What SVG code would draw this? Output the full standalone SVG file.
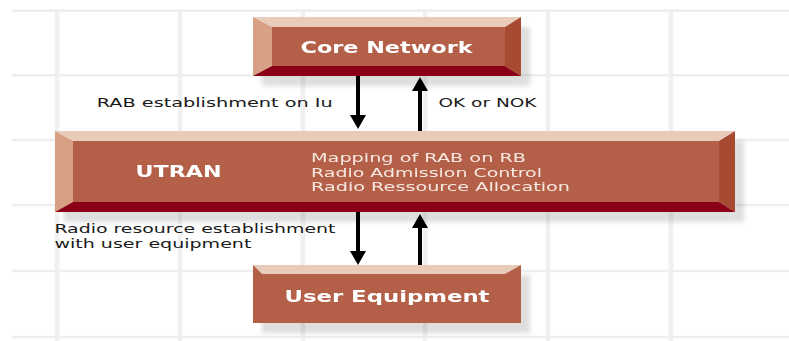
<svg xmlns="http://www.w3.org/2000/svg" width="789" height="341" viewBox="0 0 789 341">
  <defs>
    <style>
      .grid-h { stroke: #eeeeee; stroke-width: 2.5; }
      .grid-v { stroke: #f0f0f0; stroke-width: 4.5; }
      .face { fill: #b4614a; }
      .bev-top { fill: #e8ccb9; }
      .bev-left { fill: #d8a084; }
      .bev-right { fill: #a64b33; }
      .bev-bottom { fill: #8a0014; }
      .node-title { font-family: "DejaVu Sans", "Liberation Sans", sans-serif; font-weight: bold; font-size: 16.5px; fill: #ffffff; }
      .node-list { font-family: "DejaVu Sans", "Liberation Sans", sans-serif; font-size: 12.8px; fill: #f6e8e0; }
      .label { font-family: "DejaVu Sans", "Liberation Sans", sans-serif; font-size: 13px; fill: #1a1a1a; }
      .flow { stroke: #000000; stroke-width: 4; fill: none; marker-end: url(#head); }
    </style>
    <marker id="head" viewBox="0 0 14 16" refX="0" refY="8" markerWidth="14" markerHeight="16" markerUnits="userSpaceOnUse" orient="auto">
      <path d="M0,0 L14,8 L0,16 Z" fill="#000000"/>
    </marker>
    <filter id="shadow" x="-10%" y="-20%" width="130%" height="160%">
      <feGaussianBlur in="SourceAlpha" stdDeviation="2.2" result="blur"/>
      <feOffset in="blur" dx="9" dy="10" result="off"/>
      <feFlood flood-color="#000000" flood-opacity="0.13"/>
      <feComposite in2="off" operator="in" result="shade"/>
      <feMerge>
        <feMergeNode in="shade"/>
        <feMergeNode in="SourceGraphic"/>
      </feMerge>
    </filter>
  </defs>

  <rect width="789" height="341" fill="#ffffff"/>

  <!-- background grid -->
  <g id="grid">
    <line class="grid-v" x1="57" y1="12" x2="57" y2="341"/>
    <line class="grid-v" x1="180" y1="12" x2="180" y2="341"/>
    <line class="grid-v" x1="303" y1="12" x2="303" y2="341"/>
    <line class="grid-v" x1="425" y1="12" x2="425" y2="341"/>
    <line class="grid-v" x1="548" y1="12" x2="548" y2="341"/>
    <line class="grid-v" x1="671" y1="12" x2="671" y2="341"/>
    <line class="grid-h" x1="12" y1="10.7" x2="789" y2="10.7"/>
    <line class="grid-h" x1="12" y1="75.3" x2="789" y2="75.3"/>
    <line class="grid-h" x1="12" y1="140" x2="789" y2="140"/>
    <line class="grid-h" x1="12" y1="205" x2="789" y2="205"/>
    <line class="grid-h" x1="12" y1="271" x2="789" y2="271"/>
    <line class="grid-h" x1="12" y1="337" x2="789" y2="337"/>
  </g>

  <!-- Core Network -->
  <g id="node-core" filter="url(#shadow)">
    <rect class="face" x="272" y="27" width="233" height="39"/>
    <polygon class="bev-top" points="253,17 521,17 505,27 272,27"/>
    <polygon class="bev-left" points="253,17 272,27 272,66 253,76"/>
    <polygon class="bev-right" points="521,17 521,76 505,66 505,27"/>
    <polygon class="bev-bottom" points="253,76 272,66 505,66 521,76"/>
    <text class="node-title" x="300.5" y="53.3" textLength="172" lengthAdjust="spacingAndGlyphs">Core Network</text>
  </g>

  <!-- UTRAN -->
  <g id="node-utran" filter="url(#shadow)">
    <rect class="face" x="73" y="141" width="646" height="61"/>
    <polygon class="bev-top" points="55,131 735,131 719,141 73,141"/>
    <polygon class="bev-left" points="55,131 73,141 73,202 55,212"/>
    <polygon class="bev-right" points="735,131 735,212 719,202 719,141"/>
    <polygon class="bev-bottom" points="55,212 73,202 719,202 735,212"/>
    <text class="node-title" x="135.5" y="176.5" textLength="86" lengthAdjust="spacingAndGlyphs">UTRAN</text>
    <text class="node-list" x="311" y="162.3" textLength="215" lengthAdjust="spacingAndGlyphs">Mapping of RAB on RB</text>
    <text class="node-list" x="311" y="176.7" textLength="231" lengthAdjust="spacingAndGlyphs">Radio Admission Control</text>
    <text class="node-list" x="311" y="191" textLength="259" lengthAdjust="spacingAndGlyphs">Radio Ressource Allocation</text>
  </g>

  <!-- User Equipment -->
  <g id="node-ue" filter="url(#shadow)">
    <rect class="face" x="253" y="265" width="268" height="58"/>
    <polygon class="bev-top" points="253,265 521,265 505,274 262,274"/>
    <text class="node-title" x="284.5" y="301.7" textLength="205" lengthAdjust="spacingAndGlyphs">User Equipment</text>
  </g>

  <!-- connectors and their labels -->
  <g id="connectors">
    <line class="flow" x1="358" y1="76" x2="358" y2="115"/>
    <line class="flow" x1="420" y1="131" x2="420" y2="91"/>
    <line class="flow" x1="358" y1="212" x2="358" y2="251"/>
    <line class="flow" x1="420" y1="265" x2="420" y2="228"/>
    <text class="label" x="96.7" y="106.7" textLength="236" lengthAdjust="spacingAndGlyphs">RAB establishment on Iu</text>
    <text class="label" x="438.5" y="106.7" textLength="98" lengthAdjust="spacingAndGlyphs">OK or NOK</text>
    <text class="label" x="54.4" y="233.3" textLength="281" lengthAdjust="spacingAndGlyphs">Radio resource establishment</text>
    <text class="label" x="54.4" y="248" textLength="197" lengthAdjust="spacingAndGlyphs">with user equipment</text>
  </g>
</svg>
